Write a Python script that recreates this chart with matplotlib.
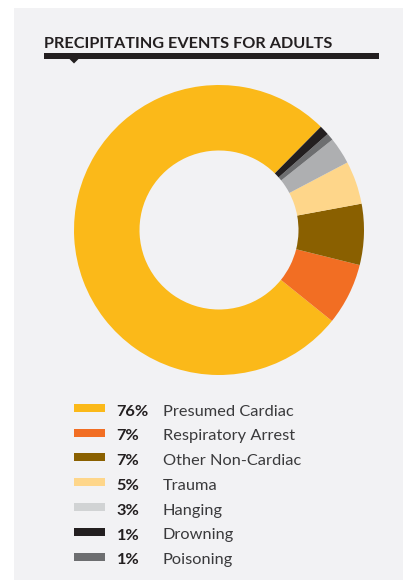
import matplotlib
matplotlib.use('Agg')
import matplotlib.pyplot as plt
from matplotlib.patches import Rectangle, Polygon

W, H = 406, 582

# slices, counter-clockwise from the top-right gap
slice_names = ['Presumed Cardiac', 'Respiratory Arrest', 'Other Non-Cardiac',
               'Trauma', 'Hanging', 'Poisoning', 'Drowning']
slice_vals = [76.6, 6.9, 6.8, 4.8, 3.0, 0.8, 1.1]
slice_colors = ['#FBB919', '#F26E23', '#8A6000', '#FED68A', '#AEAFB1', '#6D6E70', '#231F20']

# legend (order as printed)
legend_pcts = ['76%', '7%', '7%', '5%', '3%', '1%', '1%']
legend_names = ['Presumed Cardiac', 'Respiratory Arrest', 'Other Non-Cardiac',
                'Trauma', 'Hanging', 'Drowning', 'Poisoning']
legend_colors = ['#FBB919', '#F26E23', '#8A6000', '#FED68A', '#D1D3D4', '#231F20', '#6D6E70']

title = 'PRECIPITATING EVENTS FOR ADULTS'

FONT = 'Lato'


def fx(px):
    return px / W


def fy(py):
    return 1 - py / H


fig = plt.figure(figsize=(W / 100, H / 100), dpi=100)
fig.patch.set_facecolor('white')

# grey panel
fig.patches.append(Rectangle((fx(14), fy(580)), fx(403) - fx(14), fy(8) - fy(580),
                             transform=fig.transFigure, facecolor='#F2F2F4',
                             edgecolor='none', zorder=-10))

# title and rule with small pointer
fig.text(fx(44), fy(48.3), title, fontsize=11.7, fontweight='bold', family=FONT,
         color='#231F20', ha='left', va='baseline')
fig.patches.append(Rectangle((fx(44), fy(58.5)), fx(379) - fx(44), fy(53) - fy(58.5),
                             transform=fig.transFigure, facecolor='#231F20',
                             edgecolor='none'))
fig.patches.append(Polygon([(fx(68.5), fy(58)), (fx(79.5), fy(58)), (fx(74), fy(63.5))],
                           closed=True, transform=fig.transFigure,
                           facecolor='#231F20', edgecolor='none'))

# donut
cx, cy, R, r = 219, 230, 145, 79.5
ax = fig.add_axes([fx(cx - R), fy(cy + R), 2 * R / W, 2 * R / H])
ax.pie(slice_vals, colors=slice_colors, startangle=45.4, counterclock=True,
       radius=1, wedgeprops=dict(width=1 - r / R, linewidth=0))
ax.set_xlim(-1, 1)
ax.set_ylim(-1, 1)
ax.set_aspect('equal')
ax.axis('off')

# legend
for i in range(len(legend_names)):
    yc = 407.7 + 24.8 * i
    fig.patches.append(Rectangle((fx(74), fy(yc + 4)), fx(105) - fx(74), fy(yc - 4) - fy(yc + 4),
                                 transform=fig.transFigure, facecolor=legend_colors[i],
                                 edgecolor='none'))
    fig.text(fx(116.5), fy(yc + 7.8), legend_pcts[i], fontsize=11.8, fontweight='bold',
             family=FONT, color='#231F20', ha='left', va='baseline')
    fig.text(fx(163), fy(yc + 7.8), legend_names[i], fontsize=11.8, family=FONT,
             color='#3A3A3C', ha='left', va='baseline')

fig.savefig('out.png', dpi=100, facecolor=fig.get_facecolor())
